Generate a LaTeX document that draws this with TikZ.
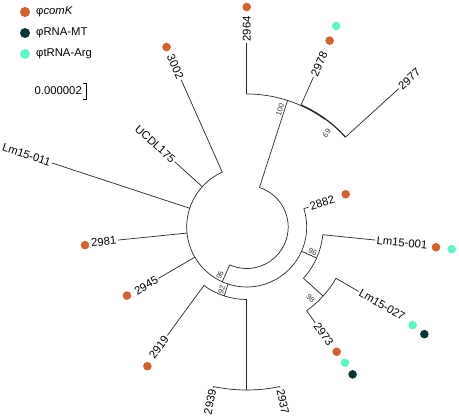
\documentclass[tikz,border=0pt]{standalone}
\usepackage{fontspec}
\setmainfont{Liberation Sans}
\definecolor{corange}{HTML}{CF6230}
\definecolor{cdark}{HTML}{0A3534}
\definecolor{cmint}{HTML}{63F3C9}
\begin{document}
\begin{tikzpicture}[
  br/.style={line width=0.7pt, draw=black!85},
  lab/.style={font=\fontsize{11.3}{13}\selectfont, inner sep=1.5pt},
  bs/.style={font=\fontsize{7.5}{8}\selectfont, inner sep=0.5pt, text=black!80},
  dotO/.style={circle, fill=corange, draw=none, inner sep=0pt, minimum size=8.6pt},
  dotD/.style={circle, fill=cdark, draw=none, inner sep=0pt, minimum size=8.6pt},
  dotM/.style={circle, fill=cmint, draw=none, inner sep=0pt, minimum size=8.6pt},
  lgdot/.style={minimum size=10pt}
]
\useasboundingbox (0,0) rectangle (459pt,418pt);

% legend
\node[dotO, lgdot] (lg1) at (25pt,406pt) {};
\node[dotD, lgdot] (lg2) at (25pt,385pt) {};
\node[dotM, lgdot] (lg3) at (25pt,364pt) {};
\node[lab, anchor=west] (lt1) at (34.5pt,406pt) {φ\textit{comK}};
\node[lab, anchor=west] (lt2) at (34.5pt,385pt) {φRNA-MT};
\node[lab, anchor=west] (lt3) at (34.5pt,364pt) {φtRNA-Arg};

% scale bar
\node[lab, anchor=east] (sc) at (83.5pt,327pt) {0.000002};
\coordinate (sb1) at (83.3pt,334.7pt);
\coordinate (sb2) at (86.2pt,334.7pt);
\coordinate (sb3) at (86.2pt,318pt);
\coordinate (sb4) at (83.3pt,318pt);
\draw[line width=1pt] (sb1) -- (sb2) -- (sb3) -- (sb4);

\begin{scope}[shift={(246.7pt,191pt)}]
% root arc
\coordinate (r100) at (72.1:41.5pt);
\coordinate (r95) at (-114.1:41.5pt);
\draw[br] (r100) arc[start angle=72.1, end angle=-114.1, radius=41.5pt];

% clade 100
\coordinate (n100) at (72.1:133pt);
\draw[br] (r100) -- (n100);
\coordinate (n100a) at (90:133pt);
\coordinate (n100b) at (54.2:133pt);
\draw[br] (n100a) arc[start angle=90, end angle=54.2, radius=133pt];
\coordinate (t2964) at (90:184pt);
\draw[br] (n100a) -- (t2964);
\coordinate (n69) at (54.2:133.6pt);
\draw[br] (n100b) -- (n69);
\coordinate (n69a) at (66:133.6pt);
\coordinate (n69b) at (42.3:133.6pt);
\draw[br, line width=1.2pt] (n69a) arc[start angle=66, end angle=42.3, radius=133.6pt];
\coordinate (t2978) at (66:164pt);
\draw[br] (n69a) -- (t2978);
\coordinate (t2977) at (42.3:205.6pt);
\draw[br] (n69b) -- (t2977);

% clade 95
\coordinate (n95) at (-114.1:60pt);
\draw[br] (r95) -- (n95);
\coordinate (n95a) at (114:60pt);
\draw[br] (n95a) arc[start angle=114, end angle=377.8, radius=60pt];
\coordinate (t3002) at (114:161pt);
\draw[br] (n95a) -- (t3002);
\coordinate (bU) at (137.8:60pt);
\coordinate (tU) at (137.8:97pt);
\draw[br] (bU) -- (tU);
\coordinate (bL11) at (161.8:60pt);
\coordinate (tL11) at (161.8:205pt);
\draw[br] (bL11) -- (tL11);
\coordinate (b2981) at (185.8:60pt);
\coordinate (t2981) at (185.8:129.4pt);
\draw[br] (b2981) -- (t2981);
\coordinate (b2945) at (210.2:60pt);
\coordinate (t2945) at (210.2:102pt);
\draw[br] (b2945) -- (t2945);
\coordinate (b2882) at (17.8:60pt);
\coordinate (t2882) at (17.8:65pt);
\draw[br] (b2882) -- (t2882);

% clade 92
\coordinate (b92) at (251.9:60pt);
\coordinate (n92) at (251.9:72.5pt);
\draw[br] (b92) -- (n92);
\coordinate (n92a) at (233.8:72.5pt);
\coordinate (n92b) at (270:72.5pt);
\draw[br] (n92a) arc[start angle=233.8, end angle=270, radius=72.5pt];
\coordinate (t2919) at (233.8:134.4pt);
\draw[br] (n92a) -- (t2919);
\coordinate (n39) at (270:163pt);
\draw[br] (n92b) -- (n39);
\coordinate (n39a) at (258.2:163pt);
\coordinate (n39b) at (281.7:163pt);
\draw[br] (n39a) arc[start angle=258.2, end angle=281.7, radius=163pt];
\coordinate (t2939) at (258.2:164.5pt);
\coordinate (t2937) at (281.7:164.5pt);
\draw[br] (n39a) -- (t2939);
\draw[br] (n39b) -- (t2937);

% clade 96
\coordinate (b96) at (-23.9:60pt);
\coordinate (n96) at (-23.9:76.5pt);
\draw[br] (b96) -- (n96);
\coordinate (n96a) at (-5.8:76.5pt);
\coordinate (n96b) at (-42.1:76.5pt);
\draw[br] (n96a) arc[start angle=-5.8, end angle=-42.1, radius=76.5pt];
\coordinate (tL01) at (-5.8:129pt);
\draw[br] (n96a) -- (tL01);
\coordinate (n98) at (-42.1:103pt);
\draw[br] (n96b) -- (n98);
\coordinate (n98a) at (-29.9:103pt);
\coordinate (n98b) at (-54.4:103pt);
\draw[br] (n98a) arc[start angle=-29.9, end angle=-54.4, radius=103pt];
\coordinate (tL27) at (-29.9:129pt);
\draw[br] (n98a) -- (tL27);
\coordinate (t2973) at (-54.4:118pt);
\draw[br] (n98b) -- (t2973);

% leaf labels
\node[lab, rotate=90, anchor=west] (l2964) at (t2964) {2964};
\node[lab, rotate=66, anchor=west] (l2978) at (t2978) {2978};
\node[lab, rotate=42.3, anchor=west] (l2977) at (t2977) {2977};
\node[lab, rotate=17.8, anchor=west] (l2882) at (t2882) {2882};
\node[lab, rotate=-5.8, anchor=west] (lL01) at (tL01) {Lm15-001};
\node[lab, rotate=-29.9, anchor=west] (lL27) at (tL27) {Lm15-027};
\node[lab, rotate=-54.4, anchor=west] (l2973) at (t2973) {2973};
\node[lab, rotate=-78.3, anchor=west] (l2937) at (t2937) {2937};
\node[lab, rotate=78.2, anchor=east] (l2939) at (t2939) {2939};
\node[lab, rotate=53.8, anchor=east] (l2919) at (t2919) {2919};
\node[lab, rotate=30.2, anchor=east] (l2945) at (t2945) {2945};
\node[lab, rotate=5.8, anchor=east] (l2981) at (t2981) {2981};
\node[lab, rotate=-18.2, anchor=east] (lL11) at (tL11) {Lm15-011};
\node[lab, rotate=-42.2, anchor=east] (lU) at (tU) {UCDL175};
\node[lab, rotate=-66, anchor=east] (l3002) at (t3002) {3002};

% bootstrap labels
\node[bs, rotate=72] (b100) at (74.1:121.6pt) {100};
\node[bs, rotate=54] (b69) at (49.5:123.4pt) {69};
\node[bs, rotate=66] (b95l) at (240.9:54.9pt) {95};
\node[bs, rotate=72] (b92l) at (248.4:67.8pt) {92};
\node[bs, rotate=-24] (b96l) at (-20.5:70.5pt) {96};
\node[bs, rotate=-42] (b98l) at (-48.1:95.8pt) {98};

% dots
\node[dotO] (d2964) at (90:220pt) {};
\node[dotO] (d2978o) at (66:204pt) {};
\node[dotM] (d2978m) at (66:220pt) {};
\node[dotO] (d3002) at (114:197pt) {};
\node[dotO] (d2981) at (186.4:162.7pt) {};
\node[dotO] (d2945) at (209.8:138pt) {};
\node[dotO] (d2919) at (234.5:171pt) {};
\node[dotO] (d2882) at (18.3:104.3pt) {};
\node[dotO] (dL01o) at (-6.1:190.4pt) {};
\node[dotM] (dL01m) at (-6.2:206.2pt) {};
\node[dotM] (dL27m) at (-30.6:192.8pt) {};
\node[dotD] (dL27d) at (-31.1:207.5pt) {};
\node[dotO] (d2973o) at (-54.2:153.8pt) {};
\node[dotM] (d2973m) at (-54.1:167.6pt) {};
\node[dotD] (d2973d) at (-54.3:181.5pt) {};
\end{scope}
\end{tikzpicture}
\end{document}
